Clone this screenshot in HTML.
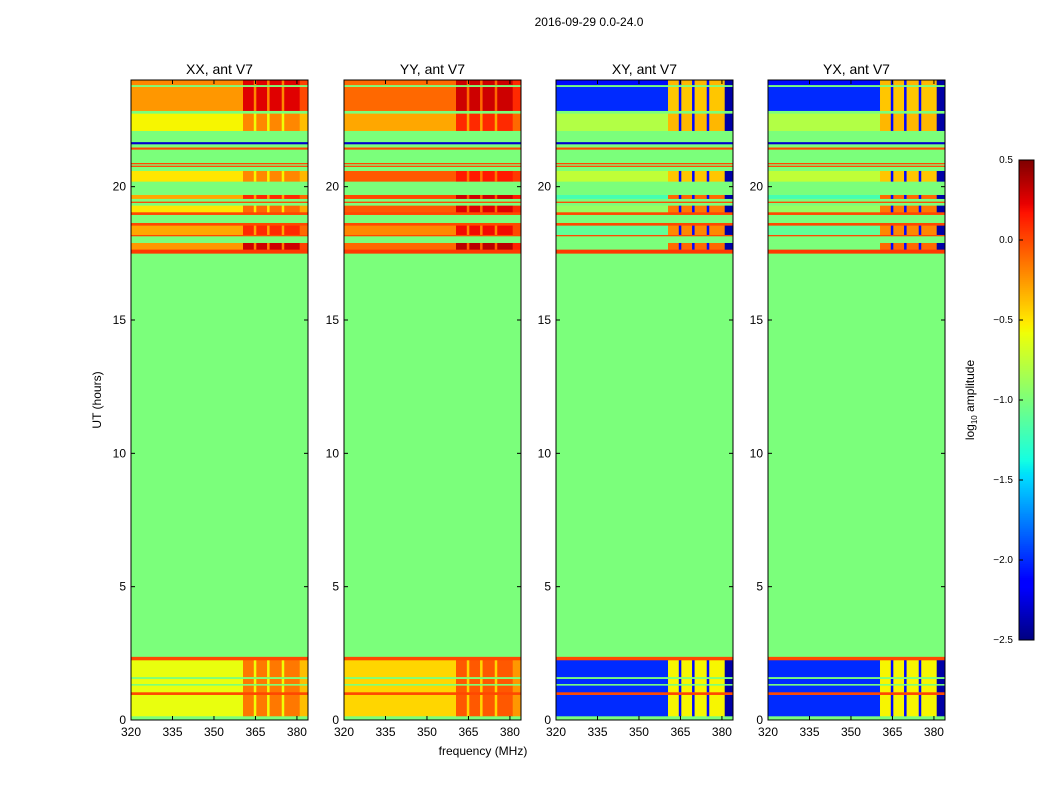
<!DOCTYPE html>
<html><head><meta charset="utf-8"><style>
body{margin:0;background:#fff;}
svg text{font-family:"Liberation Sans","DejaVu Sans",sans-serif;}
</style></head><body>
<svg id="fig" width="1050" height="800" xmlns="http://www.w3.org/2000/svg">
<rect width="1050" height="800" fill="#fff"/>
<text x="589" y="26" font-size="12" text-anchor="middle">2016-09-29 0.0-24.0</text>
<text x="101" y="400" font-size="12" text-anchor="middle" transform="rotate(-90 101 400)">UT (hours)</text>
<text x="483" y="755" font-size="12" text-anchor="middle">frequency (MHz)</text>
<g id="panels"></g>
<g id="cbar"></g>
</svg>
<script>
// time bands (hours)
const bandStart=[0,0.15,0.95,1.05,1.3,1.36,1.55,1.62,2.25,2.38,17.5,17.65,17.9,18.15,18.2,18.55,18.65,18.95,19.05,19.3,19.4,19.45,19.55,19.7,20.2,20.6,20.75,20.8,20.85,20.9,21.4,21.48,21.6,21.68,22.1,22.75,22.85,23.75,23.82];
const bandEnd=[0.15,0.95,1.05,1.3,1.36,1.55,1.62,2.25,2.38,17.5,17.65,17.9,18.15,18.2,18.55,18.65,18.95,19.05,19.3,19.4,19.45,19.55,19.7,20.2,20.6,20.75,20.8,20.85,20.9,21.4,21.48,21.6,21.68,22.1,22.75,22.85,23.75,23.82,24];
// log10 amplitude: low-band (320-360 MHz) and high-band (360-380 MHz)
const xxLo=[-1,-0.6,0,-0.6,-1,-0.6,-1,-0.6,0,-1,0.05,-0.25,-1,0,-0.3,0,-1,0,-0.5,-1,0,-1,-0.3,-1,-0.5,-1,0,-1,0,-1,0,-1,-2.3,-1,-0.55,-1,-0.25,-1,-0.2];
const xxHi=[-1,-0.15,0,-0.15,-1,-0.15,-1,-0.15,0,-1,0.05,0.3,-1,0,0.1,0,-1,0,-0.1,-1,0,-1,0.1,-1,-0.2,-1,0,-1,0,-1,0,-1,-2.3,-1,-0.2,-1,0.25,-1,0.25];
const yyLo=[-1,-0.45,0,-0.45,-1,-0.45,-1,-0.45,0,-1,0.05,-0.1,-1,0,-0.2,0,-1,0,-0.05,-1,0,-1,0,-1,-0.05,-1,0,-1,0,-1,0,-1,-2.3,-1,-0.3,-1,-0.1,-1,-0.1];
const yyHi=[-1,-0.05,0,-0.05,-1,-0.05,-1,-0.05,0,-1,0.05,0.35,-1,0,0.2,0,-1,0,0.25,-1,0,-1,0.3,-1,0.15,-1,0,-1,0,-1,0,-1,-2.3,-1,0.1,-1,0.3,-1,0.3];
const crLo=[-1,-2.0,0,-2.0,-1,-2.0,-1,-2.0,0,-1,0.05,-1.0,-1,0,-1.1,0,-1,0,-0.9,-1,0,-1,-1.2,-1,-0.75,-1,0,-1,0,-1,0,-1,-2.3,-1,-0.8,-1,-2.0,-1,-2.1];
const crHi=[-1,-0.55,0,-0.55,-1,-0.55,-1,-0.55,0,-1,0.05,-0.1,-1,0,-0.2,0,-1,0,-0.15,-1,0,-1,-0.1,-1,-0.4,-1,0,-1,0,-1,0,-1,-2.3,-1,-0.35,-1,-0.4,-1,-0.35];
const panelTitles=["XX, ant V7","YY, ant V7","XY, ant V7","YX, ant V7"];
const xTicks=[320,335,350,365,380];
const yTicks=[0,5,10,15,20];
const cbTicks=[0.5,0.0,-0.5,-1.0,-1.5,-2.0,-2.5];
const gapFreqs=[364.8,369.6,374.9];

const NS="http://www.w3.org/2000/svg";
const panelX=[131,344,556,768], PW=177, PT=80, PB=720;
const fmin=320,fmax=384;
const xs=(f,p)=>panelX[p]+(f-fmin)/(fmax-fmin)*PW;
const ys=h=>PB-(h/24)*(PB-PT);
const JR=[[0,0],[0.35,0],[0.66,1],[0.89,1],[1,0.5]];
const JG=[[0,0],[0.125,0],[0.375,1],[0.64,1],[0.91,0],[1,0]];
const JB=[[0,0.5],[0.11,1],[0.34,1],[0.65,0],[1,0]];
function seg(s,v){for(let i=1;i<s.length;i++){if(v<=s[i][0]){const a=s[i-1],b=s[i];return a[1]+(b[1]-a[1])*(v-a[0])/(b[0]-a[0]);}}return s[s.length-1][1];}
function jet(x){const v=Math.max(0,Math.min(1,(x+2.5)/3));
 return `rgb(${Math.round(255*seg(JR,v))},${Math.round(255*seg(JG,v))},${Math.round(255*seg(JB,v))})`;}
function el(t,a,parent){const e=document.createElementNS(NS,t);for(const k in a)e.setAttribute(k,a[k]);parent.appendChild(e);return e;}
const root=document.getElementById('panels');
const series=[[xxLo,xxHi],[yyLo,yyHi],[crLo,crHi],[crLo,crHi]];
for(let p=0;p<4;p++){
 const g=el('g',{},root);
 
 
 const cross=p>=2;
 const [lo,hi]=series[p];
 for(let i=0;i<bandStart.length;i++){
  const y0=ys(bandEnd[i]),y1=ys(bandStart[i]);
  const segs=[];
  if(lo[i]===hi[i]){segs.push([fmin,fmax,lo[i]]);}
  else{
   segs.push([fmin,360.5,lo[i]]);
   segs.push([360.5,381,hi[i]]);
   segs.push([381,fmax,cross?-2.4:(lo[i]+hi[i])/2]);
   gapFreqs.forEach(gf=>segs.push([gf-0.4,gf+0.4,cross?-2.1:(lo[i]+hi[i])/2-0.2]));
  }
  segs.forEach(s=>{
   const r=el('rect',{x:xs(s[0],p),y:y0,width:xs(s[1],p)-xs(s[0],p)+0.3,height:Math.max(0.5,y1-y0)+0.3,fill:jet(s[2])},g);
   
   
  });
 }
 const fr=el('rect',{x:panelX[p],y:PT,width:PW,height:PB-PT,fill:'none',stroke:'#000','stroke-width':1},g);
 
 
 const t=el('text',{x:panelX[p]+PW/2,y:74,'font-size':14,'text-anchor':'middle'},g);t.textContent=panelTitles[p];
 
 
 xTicks.forEach(v=>{const x=xs(v,p);
  el('line',{x1:x,x2:x,y1:PB,y2:PB-4,stroke:'#000'},g);el('line',{x1:x,x2:x,y1:PT,y2:PT+4,stroke:'#000'},g);
  const tx=el('text',{x:x,y:736,'font-size':12,'text-anchor':'middle'},g);tx.textContent=v;
  
  });
 yTicks.forEach(v=>{const y=ys(v);
  el('line',{x1:panelX[p],x2:panelX[p]+4,y1:y,y2:y,stroke:'#000'},g);el('line',{x1:panelX[p]+PW,x2:panelX[p]+PW-4,y1:y,y2:y,stroke:'#000'},g);
  const ty=el('text',{x:panelX[p]-5,y:y+4,'font-size':12,'text-anchor':'end'},g);ty.textContent=v;
  
  });
}
// colorbar
const cb=document.getElementById('cbar');
const CX=1019,CW=15,CT=160,CB=640;
const cys=v=>CB-(v+2.5)/3*(CB-CT);
for(let i=0;i<240;i++){const v=-2.5+3*(i+0.5)/240;
 const r=el('rect',{x:CX,y:CB-(i+1)*2,width:CW,height:2.3,fill:jet(v)},cb);
 
 }
const cf=el('rect',{x:CX,y:CT,width:CW,height:CB-CT,fill:'none',stroke:'#000'},cb);


cbTicks.forEach(v=>{const y=cys(v);
 el('line',{x1:CX,x2:CX+4,y1:y,y2:y,stroke:'#000'},cb);
 const t=el('text',{x:1013,y:y+3,'font-size':10,'text-anchor':'end'},cb);t.textContent=(v<0?'\u2212':'')+Math.abs(v).toFixed(1);
 
 });
const cl=el('text',{x:974,y:400,'font-size':12,'text-anchor':'middle',transform:'rotate(-90 974 400)'},cb);
cl.innerHTML='log<tspan font-size="8" dy="3">10</tspan><tspan dy="-3"> amplitude</tspan>';


</script>
</body></html>
